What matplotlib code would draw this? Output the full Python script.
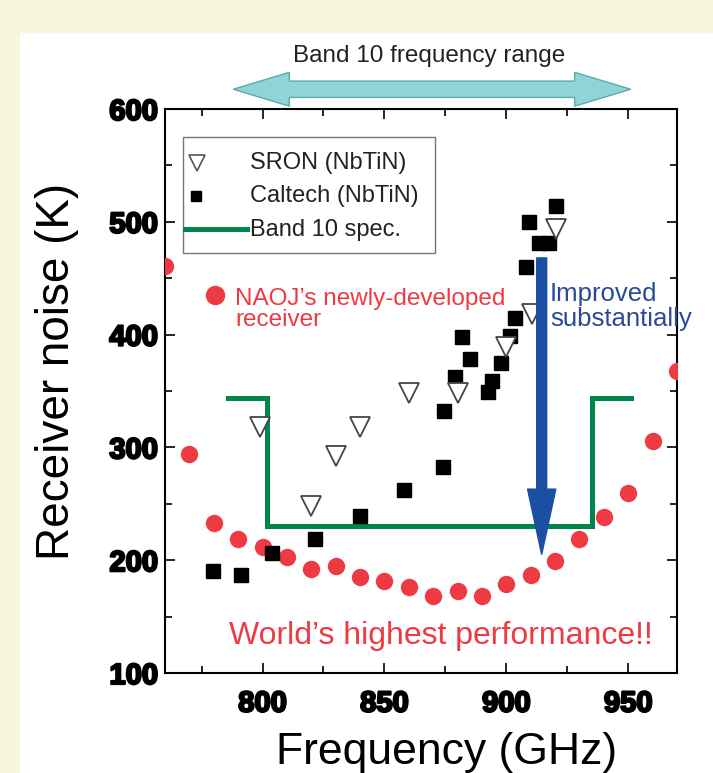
import matplotlib
matplotlib.use("Agg")
import matplotlib.pyplot as plt
from matplotlib.patches import Rectangle, Polygon
import matplotlib.patheffects as pe
import matplotlib.transforms as mtransforms

plt.rcParams['font.family'] = ['Liberation Sans', 'DejaVu Sans']

# --- data ---
# NAOJ newly developed receiver (GHz, K)
naoj_f = [760, 770, 780, 790, 800, 810, 820, 830, 840, 850, 860, 870,
          880, 890, 900, 910, 920, 930, 940, 950, 960, 970]
naoj_t = [461, 294, 233, 219, 212, 203, 192, 195, 185, 182, 176, 168,
          173, 168, 179, 187, 199, 219, 238, 260, 306, 368]

# SRON (NbTiN)
sron_f = [799, 820, 830, 840, 860, 880, 900, 910.5, 920.5]
sron_t = [318, 248, 292, 318, 348, 348, 389, 418, 494]

# Caltech (NbTiN)
caltech_f = [779.5, 791, 804, 821.5, 840, 858, 874, 874.5, 879, 882, 885,
             892.5, 894, 898, 901.5, 903.5, 908, 909.5, 913.5, 917.5, 920.5]
caltech_t = [190, 187, 206, 219, 239, 262, 283, 332, 362, 398, 378,
             349, 359, 375, 399, 415, 460, 500, 481, 481, 514]

# Band 10 spec (step line)
spec_f = [786, 802, 802, 935, 935, 951]
spec_t = [344, 344, 230, 230, 344, 344]

# band 10 frequency range and "improved" arrow
band_lo, band_hi = 788, 951
improve_f = 914.5
improve_from, improve_to = 468, 205

RED = '#ee3a42'
GREEN = '#00864a'
BLUE = '#1b4fa3'

fig = plt.figure(figsize=(7.13, 7.73), dpi=100)
fig.patch.set_facecolor('#f7f7dc')
panel = Rectangle((20 / 713, 0), 1, 1 - 33 / 773, transform=fig.transFigure,
                  facecolor='white', edgecolor='none', zorder=-10)
fig.add_artist(panel)

ax = fig.add_axes([165 / 713, 1 - 673 / 773, 512 / 713, 564 / 773])
ax.set_zorder(2)
ax.set_xlim(760, 970)
ax.set_ylim(100, 600)

ax.plot(spec_f, spec_t, color=GREEN, lw=3.6, solid_joinstyle='miter', zorder=2)
ax.plot(naoj_f, naoj_t, 'o', color=RED, ms=12.5, mec='none', zorder=3)
ax.plot(caltech_f, caltech_t, 's', color='black', ms=9.5, mec='black', zorder=4)
ax.plot(sron_f, sron_t, 'v', mfc='white', mec='#444444', mew=1.3, ms=14, zorder=5)

ax.arrow(improve_f, improve_from, 0, improve_to - improve_from, width=4.1,
         head_width=11.6, head_length=58, length_includes_head=True,
         color=BLUE, zorder=6)

# axes styling
for s in ax.spines.values():
    s.set_linewidth(1.5)
ax.set_xticks([800, 850, 900, 950])
ax.set_yticks([100, 200, 300, 400, 500, 600])
ax.set_xticks([775, 825, 875, 925], minor=True)
ax.set_yticks([150, 250, 350, 450, 550], minor=True)
ax.tick_params(which='both', direction='in', top=True, right=True, width=1.2)
ax.tick_params(which='major', length=7)
ax.tick_params(which='minor', length=5)
ax.tick_params(axis='x', which='major', pad=12)
ax.tick_params(axis='y', which='major', pad=5)
heavy = [pe.withStroke(linewidth=1.6, foreground='black')]
for lab in ax.get_xticklabels() + ax.get_yticklabels():
    lab.set_fontsize(21)
    lab.set_fontweight('bold')
    lab.set_path_effects(heavy)

fig.text(447 / 713, 1 - 764 / 773, 'Frequency (GHz)', fontsize=32,
         ha='center', va='baseline')
fig.text(57 / 713, 1 - 371 / 773, 'Receiver noise (K)', fontsize=33,
         rotation=90, ha='center', va='center')

# legend drawn by hand
ax.add_patch(Rectangle((0.035, 0.745), 0.492, 0.205, transform=ax.transAxes,
                       facecolor='white', edgecolor='#777777', lw=1.0, zorder=7))
ax.plot([0.0625], [0.904], 'v', mfc='white', mec='#555555', mew=1.2, ms=11,
        transform=ax.transAxes, zorder=8)
ax.plot([0.0605], [0.846], 's', color='black', ms=7.5, transform=ax.transAxes, zorder=8)
ax.plot([0.039, 0.160], [0.788, 0.788], color=GREEN, lw=3.6,
        transform=ax.transAxes, zorder=8)
for yy, txt in [(0.904, 'SRON (NbTiN)'), (0.846, 'Caltech (NbTiN)'), (0.786, 'Band 10 spec.')]:
    ax.text(0.166, yy, txt, transform=ax.transAxes, fontsize=17, color='#222222',
            va='center', ha='left', zorder=8)

# annotations
ax.plot([0.098], [0.670], 'o', color=RED, ms=14, mec='none', transform=ax.transAxes,
        clip_on=False, zorder=8)
ax.text(0.137, 0.645, "NAOJ\u2019s newly-developed\nreceiver", transform=ax.transAxes,
        fontsize=17.5, color=RED, va='center', ha='left', linespacing=0.95, zorder=8)
ax.text(0.752, 0.650, 'Improved\nsubstantially', transform=ax.transAxes,
        fontsize=18.5, color='#2a4a98', va='center', ha='left', linespacing=1.05, zorder=8)
ax.text(0.539, 0.066, "World\u2019s highest performance!!", transform=ax.transAxes,
        fontsize=23, color=RED, va='center', ha='center', zorder=8)

# band 10 range double arrow above the axes
trans = mtransforms.blended_transform_factory(ax.transData, ax.transAxes)
yc = 1.035
hh, sh, hl = 0.030, 0.0145, 23
pts = [(band_lo, yc), (band_lo + hl, yc + hh), (band_lo + hl, yc + sh),
       (band_hi - hl, yc + sh), (band_hi - hl, yc + hh), (band_hi, yc),
       (band_hi - hl, yc - hh), (band_hi - hl, yc - sh), (band_lo + hl, yc - sh),
       (band_lo + hl, yc - hh)]
ax.add_patch(Polygon(pts, closed=True, transform=trans, facecolor='#8fd4d8',
                     edgecolor='#5fa8ae', lw=1.0, clip_on=False, zorder=8))
ax.text(0.5 * (band_lo + band_hi) - 1, 1.094, 'Band 10 frequency range', transform=trans,
        fontsize=17.5, ha='center', va='center', color='#222222')

fig.savefig('out.png', dpi=100, facecolor=fig.get_facecolor())
